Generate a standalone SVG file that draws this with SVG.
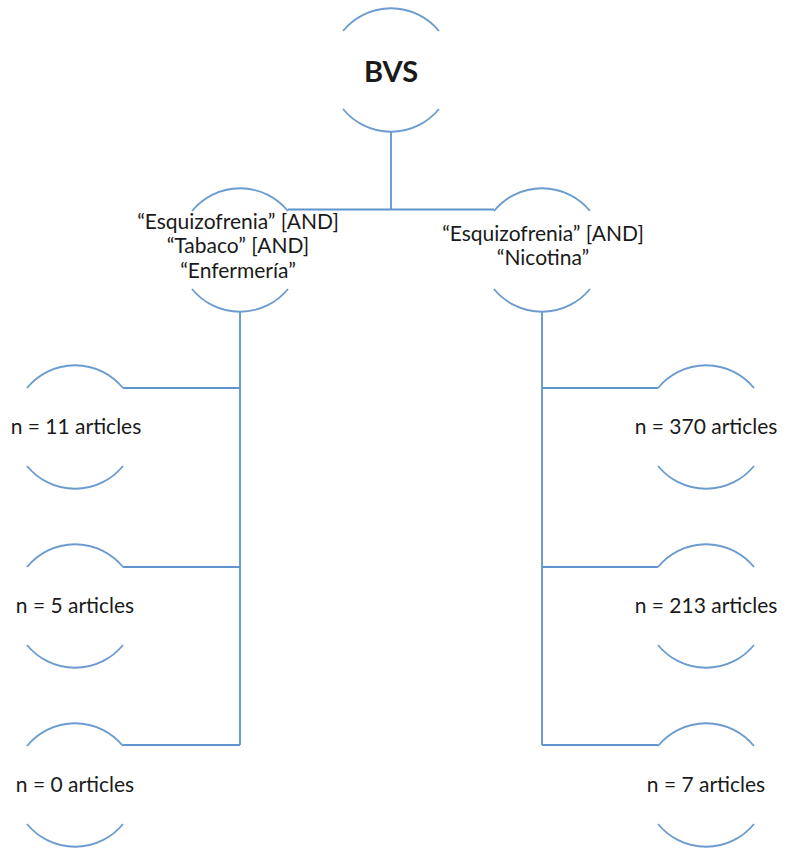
<svg xmlns="http://www.w3.org/2000/svg" width="787" height="854" viewBox="0 0 787 854">
<style>
.arc{fill:none;stroke:#6b9bcf;stroke-width:1.8}
.ln{fill:none;stroke:#5f93cb;stroke-width:1.8}
text{font-family:Lato,"Open Sans","Liberation Sans",sans-serif;fill:#1a1a1a;text-anchor:middle}
.t{font-size:21px}
.b{font-size:29px;font-weight:bold}
</style>
<defs>
<path id="c" class="arc" d="M-48,-39 A62,62 0 0 1 48,-39 M-48,39 A62,62 0 0 0 48,39"/>
</defs>
<rect width="787" height="854" fill="#fff"/>
<g id="connectors">
<path class="ln" d="M391,132 V209.5 M288,209.5 H494"/>
<path class="ln" d="M240,312 V745 M240,388 H123 M240,567 H123 M240,745 H123"/>
<path class="ln" d="M542,312 V745 M542,388 H658 M542,567 H658 M542,745 H658"/>
</g>
<g id="bvs"><use href="#c" x="391" y="70"/><text class="b" x="391" y="82">BVS</text></g>
<g id="q1"><use href="#c" x="240" y="250"/>
<text class="t" x="238" y="229">“Esquizofrenia” [AND]</text>
<text class="t" x="238" y="253">“Tabaco” [AND]</text>
<text class="t" x="238" y="278">“Enfermería”</text></g>
<g id="q2"><use href="#c" x="542" y="250"/>
<text class="t" x="543" y="241">“Esquizofrenia” [AND]</text>
<text class="t" x="543" y="265">“Nicotina”</text></g>
<g id="l1"><use href="#c" x="75" y="427"/><text class="t" x="76" y="434">n = 11 articles</text></g>
<g id="l2"><use href="#c" x="75" y="606"/><text class="t" x="75" y="613">n = 5 articles</text></g>
<g id="l3"><use href="#c" x="75" y="785"/><text class="t" x="75" y="792">n = 0 articles</text></g>
<g id="r1"><use href="#c" x="706" y="427"/><text class="t" x="706" y="434">n = 370 articles</text></g>
<g id="r2"><use href="#c" x="706" y="606"/><text class="t" x="706" y="613">n = 213 articles</text></g>
<g id="r3"><use href="#c" x="706" y="785"/><text class="t" x="706" y="792">n = 7 articles</text></g>
</svg>
